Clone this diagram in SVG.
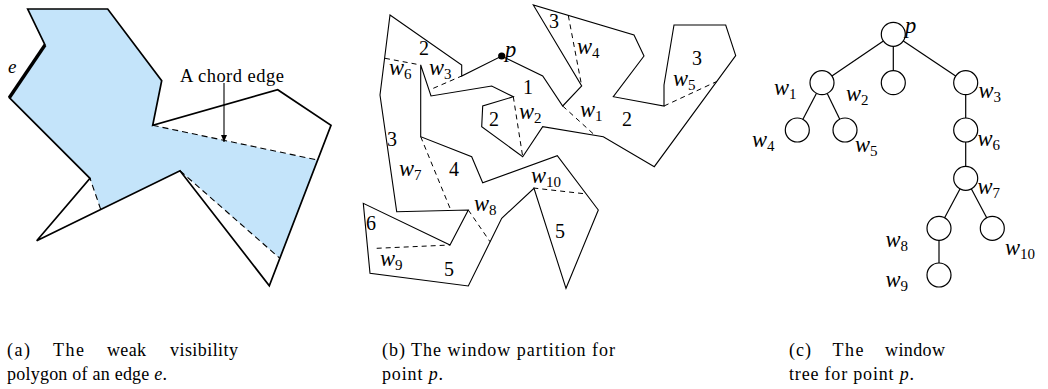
<svg xmlns="http://www.w3.org/2000/svg" width="1048" height="389" viewBox="0 0 1048 389">
<style>
text{font-family:"Liberation Serif","DejaVu Serif",serif;fill:#000}
.it{font-style:italic}
.lbl{font-size:22.5px}
.num{font-size:20px}
.sub{font-size:15px;font-style:normal}
.cap{font-size:18px}
.poly{fill:none;stroke:#000;stroke-width:1.7;stroke-linejoin:miter}
.thin{fill:none;stroke:#000;stroke-width:1.1;stroke-linejoin:miter}
.dash{fill:none;stroke:#000;stroke-width:1;stroke-dasharray:5,4}
.dashA{fill:none;stroke:#000;stroke-width:1.1;stroke-dasharray:6,4}
.edge{stroke:#000;stroke-width:1.2}
.node{fill:#fff;stroke:#000;stroke-width:1.2}
</style>
<defs>
<marker id="arr" markerWidth="8" markerHeight="8" refX="7" refY="4" orient="auto" markerUnits="userSpaceOnUse">
<path d="M0,1 L7,4 L0,7 Z" fill="#000"/>
</marker>
</defs>

<!-- (a) weak visibility polygon -->
<g id="figA">
<polygon fill="#c4e4fa" stroke="none" points="27.7,9 107.7,9 161.7,80.7 152.7,125.3 317.5,160 279.8,258.3 180,170.7 100.7,209.4 90,178.3 9.3,97.7 45,45"/>
<polygon class="poly" points="27.7,9 107.7,9 161.7,80.7 152.7,125.3 277.7,89.7 331,125.3 269.3,285.7 180,170.7 36.7,240.7 90,178.3 9.3,97.7 45,45"/>
<line x1="45" y1="45" x2="9.3" y2="97.7" stroke="#000" stroke-width="3.4"/>
<line class="dashA" x1="152.7" y1="125.3" x2="317.5" y2="160"/>
<line class="dashA" x1="180" y1="170.7" x2="279.8" y2="258.3"/>
<line class="dashA" x1="100.7" y1="209.4" x2="90" y2="178.3"/>
<text class="it" x="8" y="73" font-size="19">e</text>
<text x="180" y="81.5" font-size="18.5" textLength="104">A chord edge</text>
<line x1="224" y1="83" x2="224" y2="142" stroke="#000" stroke-width="1.1" marker-end="url(#arr)"/>
</g>

<!-- (b) window partition -->
<g id="figB">
<polygon class="thin" points="390,15 461.7,65 461.7,76 501.7,56 542.7,76 562.7,106 581.7,86 533.3,5 634,35 644,56 613.3,96.7 664,106 664,85 674,25 725.7,25 735.7,55.7 654.3,166.7 603.3,136.7 542.7,126.7 522.7,156.7 481.7,126.7 482.7,106 513.3,96.7 491.7,86 431,96 420.7,65 420.7,136.7 471.7,156.7 482.7,182.7 557.3,155.7 598.3,210 566,288.3 534,188.3 501.7,218.3 468.3,286 370,273.3 363.3,203.3 450,245 468.3,210 396.7,211.7 380,95"/>
<g id="windows">
<line class="dash" x1="385" y1="58.3" x2="420.7" y2="65"/>
<line class="dash" x1="433.3" y1="88.3" x2="461.7" y2="76"/>
<line class="dash" x1="513.3" y1="96.7" x2="522.7" y2="156.7"/>
<line class="dash" x1="562.7" y1="106" x2="595" y2="135.4"/>
<line class="dash" x1="568.3" y1="15.5" x2="581.7" y2="86"/>
<line class="dash" x1="664" y1="106" x2="716.7" y2="81.5"/>
<line class="dash" x1="420.7" y1="136.7" x2="451" y2="210.6"/>
<line class="dash" x1="468.3" y1="210" x2="490" y2="241.7"/>
<line class="dash" x1="376.7" y1="248.3" x2="450" y2="245"/>
<line class="dash" x1="533.3" y1="188" x2="586.7" y2="194"/>
</g>
<circle cx="501.7" cy="56" r="3.6" fill="#000"/>
<text class="it lbl" x="505" y="57">p</text>
<g id="regionLabels" class="num">
<text x="419" y="55">2</text>
<text x="549" y="28">3</text>
<text x="523" y="94">1</text>
<text x="489" y="126">2</text>
<text x="622" y="126">2</text>
<text x="692" y="65">3</text>
<text x="387" y="146">3</text>
<text x="449" y="176">4</text>
<text x="366" y="230">6</text>
<text x="444" y="276">5</text>
<text x="555" y="238">5</text>
</g>
<g id="windowLabels" class="it lbl">
<text x="389" y="75">w<tspan class="sub" dy="4">6</tspan></text>
<text x="429" y="75">w<tspan class="sub" dy="4">3</tspan></text>
<text x="519" y="118.5">w<tspan class="sub" dy="4">2</tspan></text>
<text x="580" y="117">w<tspan class="sub" dy="4">1</tspan></text>
<text x="577" y="54">w<tspan class="sub" dy="4">4</tspan></text>
<text x="673" y="86">w<tspan class="sub" dy="4">5</tspan></text>
<text x="399" y="176">w<tspan class="sub" dy="4">7</tspan></text>
<text x="474" y="211">w<tspan class="sub" dy="4">8</tspan></text>
<text x="380" y="266">w<tspan class="sub" dy="4">9</tspan></text>
<text x="531" y="183">w<tspan class="sub" dy="4">10</tspan></text>
</g>
</g>

<!-- (c) window tree -->
<g id="connectors">
<line class="edge" x1="893.3" y1="34.3" x2="822" y2="82.7"/>
<line class="edge" x1="893.3" y1="34.3" x2="893.3" y2="82.7"/>
<line class="edge" x1="893.3" y1="34.3" x2="965.7" y2="82.7"/>
<line class="edge" x1="822" y1="82.7" x2="797.3" y2="130"/>
<line class="edge" x1="822" y1="82.7" x2="845" y2="130"/>
<line class="edge" x1="965.7" y1="82.7" x2="965.7" y2="130"/>
<line class="edge" x1="965.7" y1="130" x2="965.7" y2="178.3"/>
<line class="edge" x1="965.7" y1="178.3" x2="939" y2="228.3"/>
<line class="edge" x1="965.7" y1="178.3" x2="992.3" y2="228.3"/>
<line class="edge" x1="939" y1="228.3" x2="939" y2="275"/>
</g>
<g id="node-p"><circle class="node" cx="893.3" cy="34.3" r="12"/><text class="it lbl" x="905" y="33">p</text></g>
<g id="node-w1"><circle class="node" cx="822" cy="82.7" r="12"/><text class="it lbl" x="774" y="95">w<tspan class="sub" dy="4">1</tspan></text></g>
<g id="node-w2"><circle class="node" cx="893.3" cy="82.7" r="12"/><text class="it lbl" x="846" y="101">w<tspan class="sub" dy="4">2</tspan></text></g>
<g id="node-w3"><circle class="node" cx="965.7" cy="82.7" r="12"/><text class="it lbl" x="978.5" y="98">w<tspan class="sub" dy="4">3</tspan></text></g>
<g id="node-w4"><circle class="node" cx="797.3" cy="130" r="12"/><text class="it lbl" x="752" y="147">w<tspan class="sub" dy="4">4</tspan></text></g>
<g id="node-w5"><circle class="node" cx="845" cy="130" r="12"/><text class="it lbl" x="855" y="152">w<tspan class="sub" dy="4">5</tspan></text></g>
<g id="node-w6"><circle class="node" cx="965.7" cy="130" r="12"/><text class="it lbl" x="977.5" y="146">w<tspan class="sub" dy="4">6</tspan></text></g>
<g id="node-w7"><circle class="node" cx="965.7" cy="178.3" r="12"/><text class="it lbl" x="977.5" y="194">w<tspan class="sub" dy="4">7</tspan></text></g>
<g id="node-w8"><circle class="node" cx="939" cy="228.3" r="12"/><text class="it lbl" x="885.5" y="247">w<tspan class="sub" dy="4">8</tspan></text></g>
<g id="node-w10"><circle class="node" cx="992.3" cy="228.3" r="12"/><text class="it lbl" x="1005" y="255">w<tspan class="sub" dy="4">10</tspan></text></g>
<g id="node-w9"><circle class="node" cx="939" cy="275" r="12"/><text class="it lbl" x="885.5" y="287">w<tspan class="sub" dy="4">9</tspan></text></g>

<!-- captions -->
<g id="captions" class="cap">
<text x="7" y="356" textLength="23">(a)</text>
<text x="53" y="356" textLength="31">The</text>
<text x="107" y="356" textLength="39">weak</text>
<text x="170" y="356" textLength="68">visibility</text>
<text x="7" y="380" textLength="160">polygon of an edge <tspan class="it">e</tspan>.</text>
<text x="382" y="356" textLength="233">(b) The window partition for</text>
<text x="382" y="380" textLength="61">point <tspan class="it">p</tspan>.</text>
<text x="789" y="356" textLength="22">(c)</text>
<text x="832.5" y="356" textLength="31">The</text>
<text x="885" y="356" textLength="60">window</text>
<text x="789" y="380" textLength="125">tree for point <tspan class="it">p</tspan>.</text>
</g>
</svg>
